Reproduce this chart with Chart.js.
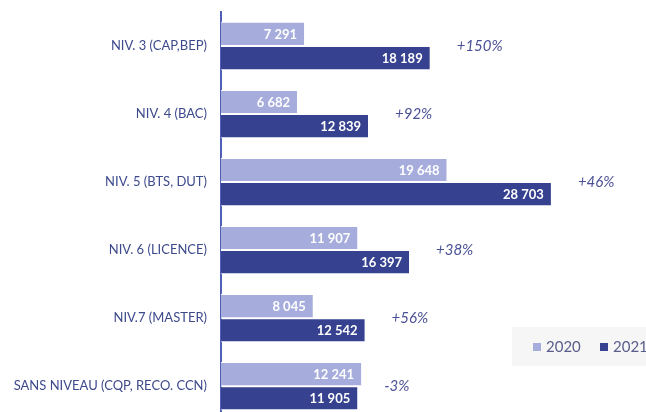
<!DOCTYPE html>
<html lang="fr">
<head>
<meta charset="utf-8">
<script src="https://cdn.jsdelivr.net/npm/chart.js@4.4.1/dist/chart.umd.min.js"></script>
<style>
  html, body { margin: 0; padding: 0; background: #fff; overflow: hidden; }
  canvas { display: block; }
</style>
</head>
<body>
<canvas id="chart" width="646" height="431"></canvas>
<script>
// données
const categories = ['NIV. 3 (CAP,BEP)', 'NIV. 4 (BAC)', 'NIV. 5 (BTS, DUT)', 'NIV. 6 (LICENCE)', 'NIV.7 (MASTER)', 'SANS NIVEAU (CQP, RECO. CCN)'];
const values2020 = [7291, 6682, 19648, 11907, 8045, 12241];
const values2021 = [18189, 12839, 28703, 16397, 12542, 11905];
const evolution = ['+150%', '+92%', '+46%', '+38%', '+56%', '-3%'];

const light = '#A6ADDC';
const dark = '#36428F';
const fontFam = 'Lato, "Open Sans", sans-serif';

const fmt = (v) => String(v).replace(/\B(?=(\d{3})+(?!\d))/g, ' ');

// étiquettes dans les barres + variation en %
const labelsPlugin = {
  id: 'barLabels',
  afterDatasetsDraw(chart) {
    const ctx = chart.ctx;
    ctx.save();
    ctx.font = 'bold 13px ' + fontFam;
    ctx.fillStyle = '#ffffff';
    ctx.textAlign = 'right';
    ctx.textBaseline = 'middle';
    chart.data.datasets.forEach((ds, d) => {
      chart.getDatasetMeta(d).data.forEach((bar, i) => {
        ctx.fillText(fmt(ds.data[i]), bar.x - 8, bar.y + 1);
      });
    });
    const dk = chart.getDatasetMeta(1).data;
    const lt = chart.getDatasetMeta(0).data;
    ctx.font = 'italic 15px ' + fontFam;
    ctx.fillStyle = '#4A5196';
    ctx.textAlign = 'left';
    evolution.forEach((txt, i) => {
      const y = (dk[i].y + lt[i].y) / 2;
      ctx.fillText(txt, dk[i].x + 26, y);
    });
    ctx.restore();
  }
};

// légende dans un cadre gris clair
const legendPlugin = {
  id: 'boxLegend',
  afterDraw(chart) {
    const ctx = chart.ctx;
    ctx.save();
    ctx.fillStyle = '#F6F6F6';
    ctx.fillRect(512, 327, 134, 39);
    ctx.font = '15px ' + fontFam;
    ctx.textBaseline = 'middle';
    ctx.textAlign = 'left';
    let x = 533;
    chart.data.datasets.forEach((ds) => {
      ctx.fillStyle = ds.backgroundColor;
      ctx.fillRect(x, 343, 8, 8);
      ctx.fillStyle = '#5A5E8A';
      ctx.fillText(ds.label, x + 13, 347);
      x += 67;
    });
    ctx.restore();
  }
};

new Chart(document.getElementById('chart'), {
  type: 'bar',
  data: {
    labels: categories,
    datasets: [
      { label: '2020', data: values2020, backgroundColor: light, borderColor: '#ffffff', borderWidth: 1 },
      { label: '2021', data: values2021, backgroundColor: dark, borderColor: '#ffffff', borderWidth: 1 }
    ]
  },
  options: {
    indexAxis: 'y',
    responsive: false,
    animation: false,
    devicePixelRatio: 1,
    layout: { padding: { top: 12, bottom: 0, left: 0, right: 10 } },
    datasets: { bar: { categoryPercentage: 0.71, barPercentage: 1 } },
    plugins: { legend: { display: false }, tooltip: { enabled: false } },
    scales: {
      x: { display: false, min: 0, max: 36000 },
      y: {
        afterFit(axis) { axis.width = 221; },
        grid: { display: true, drawOnChartArea: false, drawTicks: true, tickLength: 11, color: 'rgba(0,0,0,0)' },
        border: { display: true, color: '#5060B8', width: 2 },
        ticks: { padding: 3, color: '#3D4A8C', font: { family: fontFam, size: 13 } }
      }
    }
  },
  plugins: [labelsPlugin, legendPlugin]
});
</script>
</body>
</html>
